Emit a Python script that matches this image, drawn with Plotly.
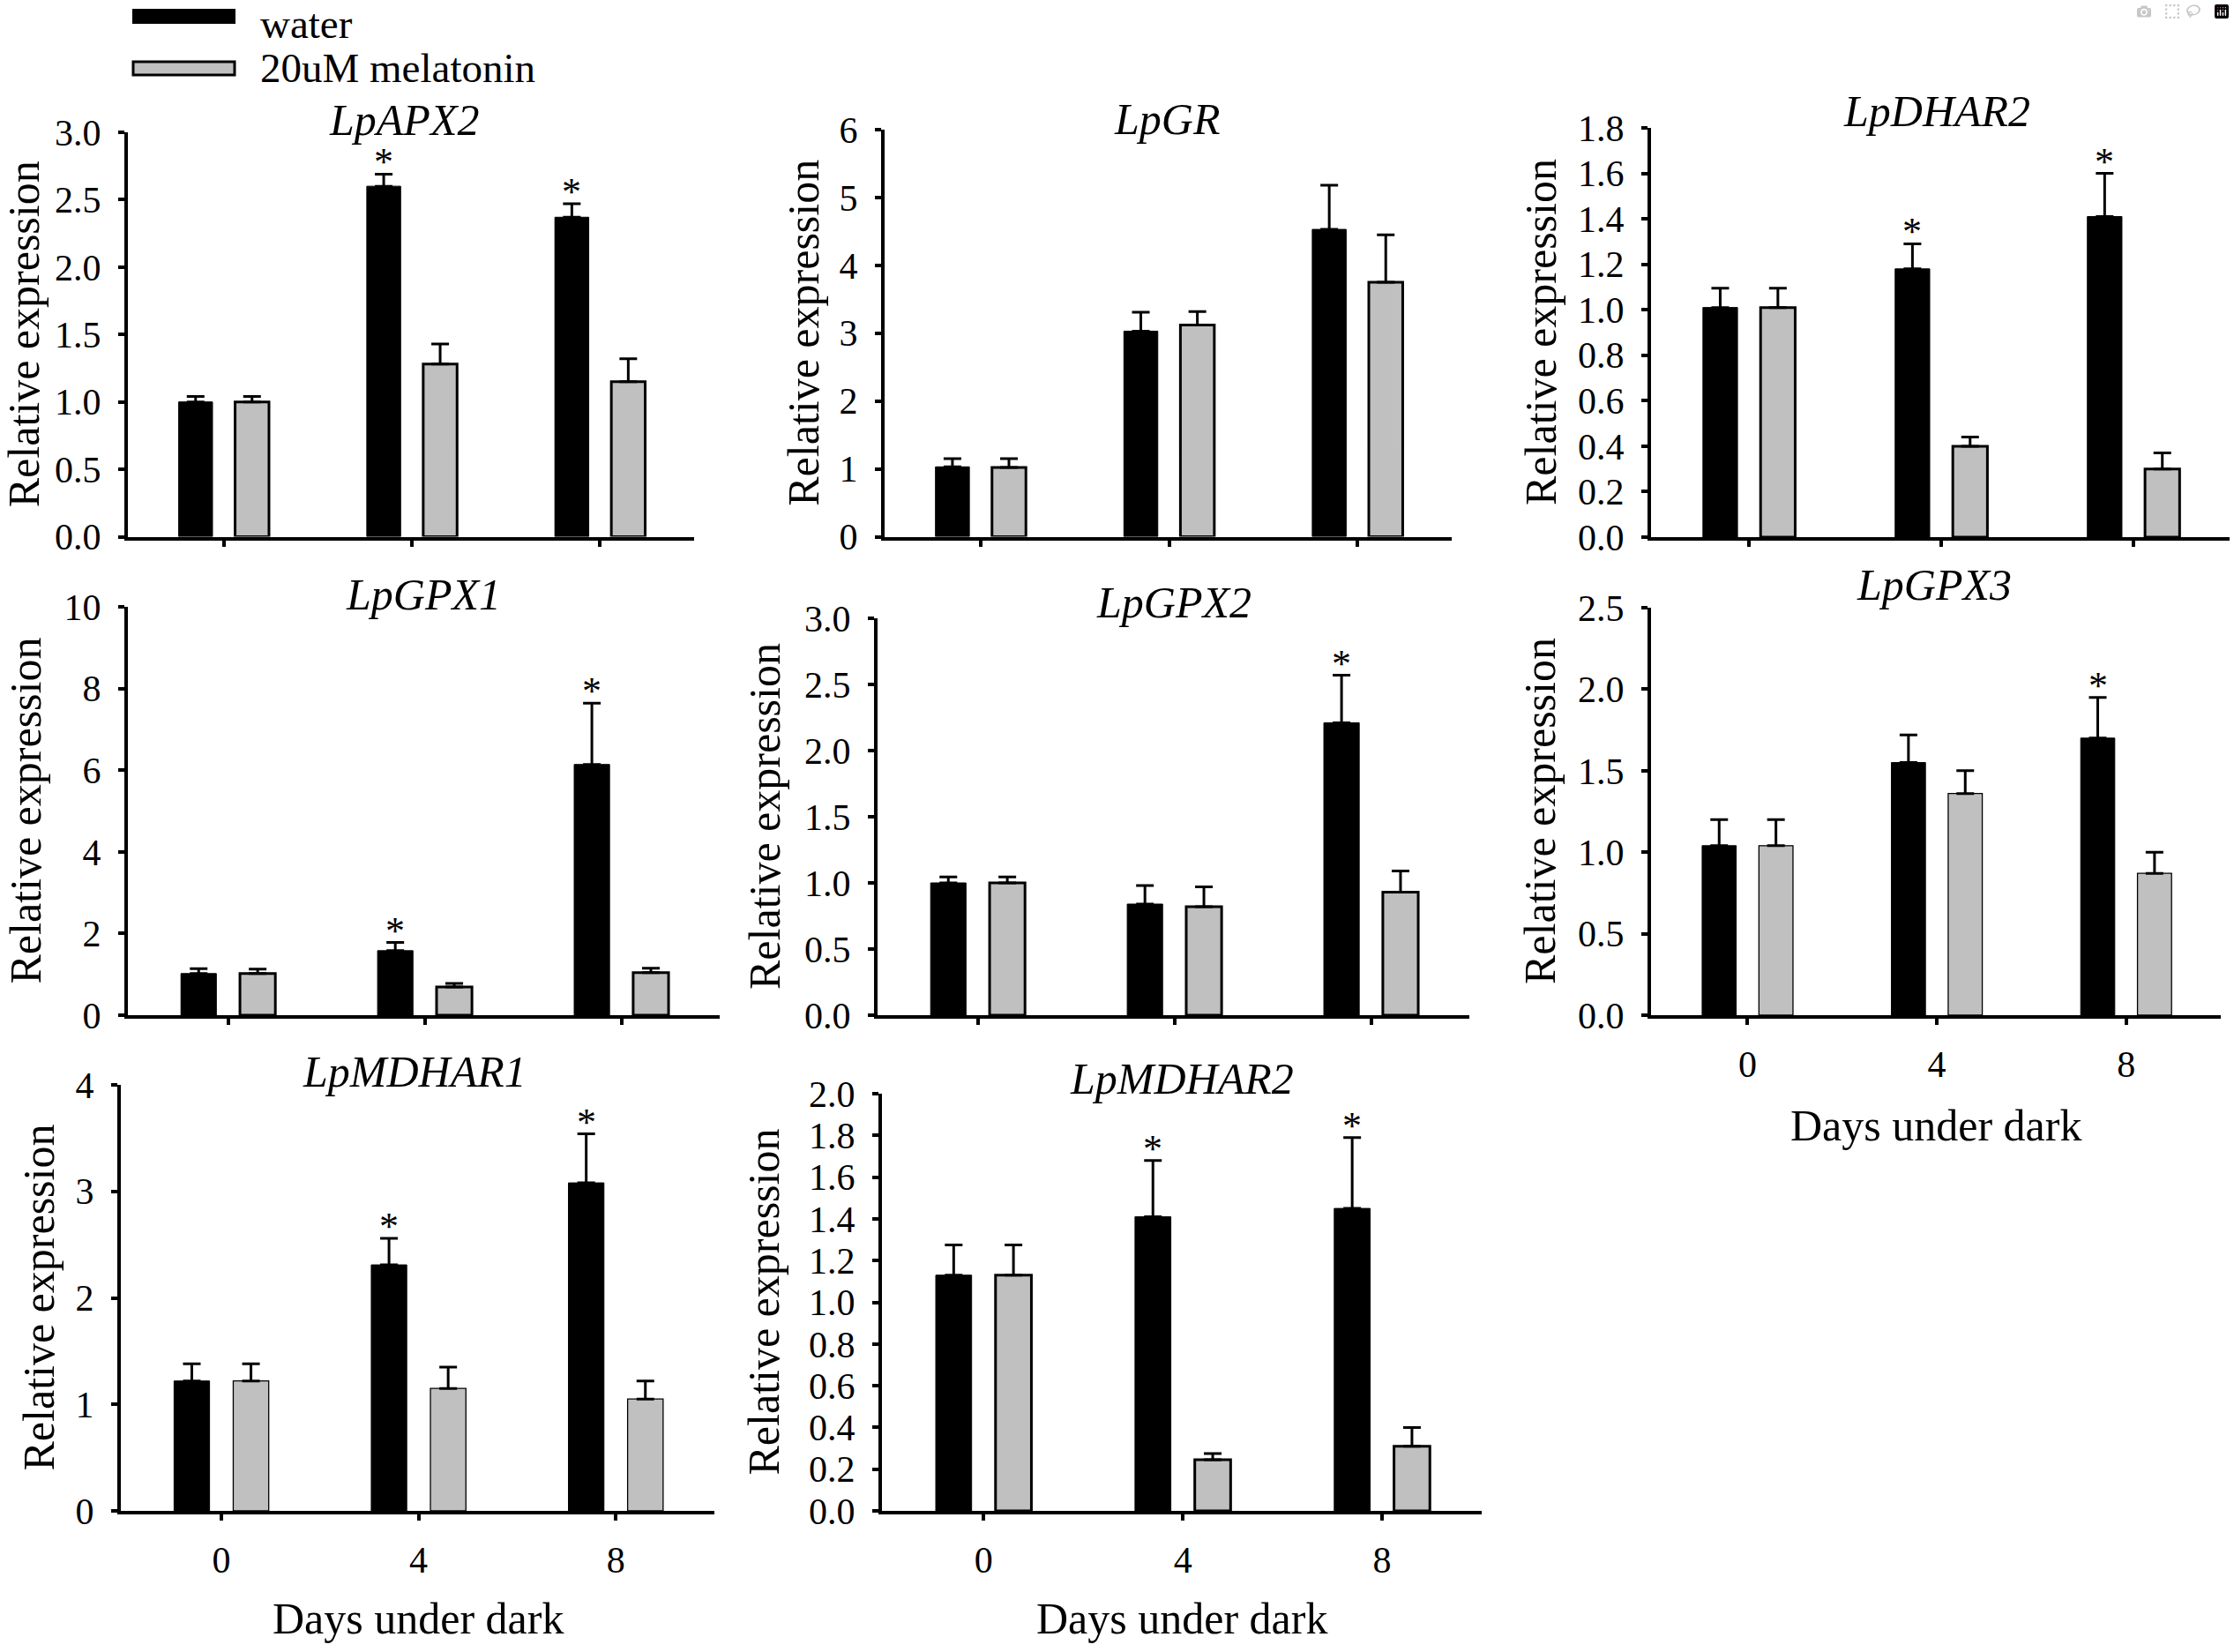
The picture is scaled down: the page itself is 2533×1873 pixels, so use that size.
import plotly.graph_objects as go

# ---------------- data ----------------
days = ["0", "4", "8"]
series_names = ["water", "20uM melatonin"]
genes = ["LpAPX2", "LpGR", "LpDHAR2", "LpGPX1", "LpGPX2", "LpGPX3", "LpMDHAR1", "LpMDHAR2"]

apx2_water = [1.00, 2.60, 2.37]
apx2_water_err = [0.04, 0.09, 0.10]
apx2_mel = [1.00, 1.28, 1.15]
apx2_mel_err = [0.04, 0.15, 0.17]
apx2_sig = [False, True, True]

gr_water = [1.03, 3.03, 4.53]
gr_water_err = [0.12, 0.28, 0.65]
gr_mel = [1.02, 3.12, 3.75]
gr_mel_err = [0.13, 0.20, 0.70]
gr_sig = [False, False, False]

dhar2_water = [1.01, 1.18, 1.41]
dhar2_water_err = [0.085, 0.11, 0.19]
dhar2_mel = [1.01, 0.40, 0.30]
dhar2_mel_err = [0.085, 0.04, 0.07]
dhar2_sig = [False, True, True]

gpx1_water = [1.02, 1.58, 6.14]
gpx1_water_err = [0.12, 0.20, 1.50]
gpx1_mel = [1.02, 0.69, 1.04]
gpx1_mel_err = [0.11, 0.09, 0.11]
gpx1_sig = [False, True, True]

gpx2_water = [1.00, 0.84, 2.21]
gpx2_water_err = [0.045, 0.14, 0.36]
gpx2_mel = [1.00, 0.82, 0.93]
gpx2_mel_err = [0.045, 0.15, 0.16]
gpx2_sig = [False, False, True]

gpx3_water = [1.04, 1.55, 1.70]
gpx3_water_err = [0.16, 0.17, 0.25]
gpx3_mel = [1.04, 1.36, 0.87]
gpx3_mel_err = [0.16, 0.14, 0.13]
gpx3_sig = [False, False, True]

mdhar1_water = [1.22, 2.31, 3.08]
mdhar1_water_err = [0.16, 0.25, 0.46]
mdhar1_mel = [1.22, 1.15, 1.05]
mdhar1_mel_err = [0.16, 0.20, 0.17]
mdhar1_sig = [False, True, True]

mdhar2_water = [1.13, 1.41, 1.45]
mdhar2_water_err = [0.145, 0.27, 0.34]
mdhar2_mel = [1.13, 0.245, 0.31]
mdhar2_mel_err = [0.145, 0.03, 0.09]
mdhar2_sig = [False, True, True]

# y-axis tick settings per gene: (max, step, format)
y_axes = [(3.0, 0.5, ".1f"), (6, 1, "d"), (1.8, 0.2, ".1f"), (10, 2, "d"),
          (3.0, 0.5, ".1f"), (2.5, 0.5, ".1f"), (4, 1, "d"), (2.0, 0.2, ".1f")]

y_title = "Relative expression"
x_title = "Days under dark"

# ---------------- layout (pixel geometry of the panels) ----------------
W, H = 2533, 1873
FONT = "Liberation Serif"
BLACK = "#000000"
GRAY = "#C0C0C0"

# x0, x1, ytop, ybot, title_cx, title_cy, ytitle_cx, thin_gray, show_xlabels
geom = [
    (145, 787, 150, 608.5, 458, 136, 27, False, False),
    (1003, 1646, 147, 608.5, 1323, 135, 911, False, False),
    (1872, 2528, 145, 609, 2196, 126, 1747, False, False),
    (145, 816, 688, 1151, 480, 674, 28, False, False),
    (995, 1666, 701, 1151, 1331, 683, 867, False, False),
    (1872, 2518, 689, 1151, 2193, 663, 1746, True, True),
    (137, 810, 1230, 1713, 470, 1215, 43, True, True),
    (1000, 1680, 1240, 1713, 1340, 1223, 865, False, True),
]

data = [
    (apx2_water, apx2_water_err, apx2_mel, apx2_mel_err, apx2_sig),
    (gr_water, gr_water_err, gr_mel, gr_mel_err, gr_sig),
    (dhar2_water, dhar2_water_err, dhar2_mel, dhar2_mel_err, dhar2_sig),
    (gpx1_water, gpx1_water_err, gpx1_mel, gpx1_mel_err, gpx1_sig),
    (gpx2_water, gpx2_water_err, gpx2_mel, gpx2_mel_err, gpx2_sig),
    (gpx3_water, gpx3_water_err, gpx3_mel, gpx3_mel_err, gpx3_sig),
    (mdhar1_water, mdhar1_water_err, mdhar1_mel, mdhar1_mel_err, mdhar1_sig),
    (mdhar2_water, mdhar2_water_err, mdhar2_mel, mdhar2_mel_err, mdhar2_sig),
]

BAR_W = 0.18
OFF_W = -0.24   # water bar left edge offset
OFF_M = 0.06    # melatonin bar left edge offset
CENTER_W = OFF_W + BAR_W / 2


def px(x):
    return x / W


def py(y):
    return 1 - y / H


fig = go.Figure()
layout_axes = {}
annotations = []

for k, gene in enumerate(genes):
    n = k + 1
    xa = "x" if n == 1 else f"x{n}"
    ya = "y" if n == 1 else f"y{n}"
    wv, we, mv, me, sig = data[k]
    x0, x1, ytop, ybot, tcx, tcy, ytcx, thin, showx = geom[k]
    ymax, ystep, yfmt = y_axes[k]
    idx = list(range(len(days)))

    fig.add_trace(go.Bar(
        x=idx, y=wv, width=BAR_W, offset=OFF_W, name=series_names[0],
        marker=dict(color=BLACK, line=dict(color=BLACK, width=1)),
        error_y=dict(type="data", array=we, arrayminus=[0] * len(we), symmetric=False,
                     color=BLACK, thickness=3, width=10),
        xaxis=xa, yaxis=ya, showlegend=False))
    fig.add_trace(go.Bar(
        x=idx, y=mv, width=BAR_W, offset=OFF_M, name=series_names[1],
        marker=dict(color=GRAY, line=dict(color=BLACK, width=1.3 if thin else 3)),
        error_y=dict(type="data", array=me, arrayminus=[0] * len(me), symmetric=False,
                     color=BLACK, thickness=3, width=10),
        xaxis=xa, yaxis=ya, showlegend=False))

    axis_common = dict(showline=True, linecolor=BLACK, linewidth=4, ticks="outside",
                       ticklen=7, tickwidth=3.5, tickcolor=BLACK, showgrid=False,
                       zeroline=False, fixedrange=True, automargin=False,
                       tickfont=dict(family=FONT, size=42, color=BLACK))
    layout_axes["xaxis" if n == 1 else f"xaxis{n}"] = dict(
        axis_common, domain=[px(x0), px(x1)], range=[-0.51, 2.5], anchor=ya,
        tickmode="array", tickvals=idx, ticktext=days, showticklabels=showx,
        ticklabelstandoff=9)
    layout_axes["yaxis" if n == 1 else f"yaxis{n}"] = dict(
        axis_common, domain=[py(ybot), py(ytop)], range=[0, ymax], anchor=xa,
        tick0=0, dtick=ystep, tickformat=yfmt, ticklabelstandoff=11)

    # gene title
    annotations.append(dict(text=f"<i>{gene}</i>", x=px(tcx), y=py(tcy), xref="paper", yref="paper",
                            xanchor="center", yanchor="middle", showarrow=False,
                            font=dict(family=FONT, size=50, color=BLACK)))
    # y-axis title
    annotations.append(dict(text=y_title, x=px(ytcx), y=py((ytop + ybot) / 2), xref="paper", yref="paper",
                            xanchor="center", yanchor="middle", textangle=-90, showarrow=False,
                            font=dict(family=FONT, size=50, color=BLACK)))
    # x-axis title
    if showx:
        xty = 1276 if n == 6 else 1835
        annotations.append(dict(text=x_title, x=px((x0 + x1) / 2), y=py(xty), xref="paper", yref="paper",
                                xanchor="center", yanchor="middle", showarrow=False,
                                font=dict(family=FONT, size=50, color=BLACK)))
    # significance asterisks
    for i, s in enumerate(sig):
        if s:
            annotations.append(dict(text="*", x=i + CENTER_W, y=wv[i] + we[i], xref=xa, yref=ya,
                                    xanchor="center", yanchor="bottom", yshift=-13, showarrow=False,
                                    font=dict(family=FONT, size=44, color=BLACK)))

# legend (drawn manually to match the long rectangular keys)
shapes = [
    dict(type="rect", xref="paper", yref="paper", x0=px(151), x1=px(266), y0=py(26), y1=py(11),
         fillcolor=BLACK, line=dict(color=BLACK, width=2)),
    dict(type="rect", xref="paper", yref="paper", x0=px(151), x1=px(266), y0=py(85), y1=py(70),
         fillcolor=GRAY, line=dict(color=BLACK, width=3)),
]
annotations.append(dict(text=series_names[0], x=px(293), y=py(27), xref="paper", yref="paper",
                        xanchor="left", yanchor="middle", showarrow=False,
                        font=dict(family=FONT, size=47, color=BLACK)))
annotations.append(dict(text=series_names[1], x=px(293), y=py(77), xref="paper", yref="paper",
                        xanchor="left", yanchor="middle", showarrow=False,
                        font=dict(family=FONT, size=47, color=BLACK)))

fig.update_layout(
    width=W, height=H, margin=dict(l=0, r=0, t=0, b=0, pad=0, autoexpand=False), autosize=False,
    paper_bgcolor="white", plot_bgcolor="white", barmode="overlay",
    font=dict(family=FONT, color=BLACK),
    annotations=annotations, shapes=shapes, showlegend=False,
    **layout_axes)

fig.write_html("out.html", post_script="document.body.style.margin='0';document.body.style.overflow='hidden';")
